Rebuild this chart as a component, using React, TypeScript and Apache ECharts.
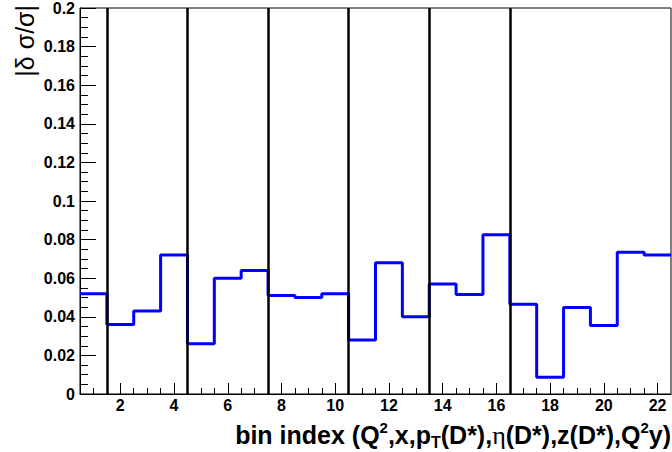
import React, { useEffect, useRef } from "react";
import * as echarts from "echarts";

// bin index 1..22 and relative uncertainty |δσ/σ|
const binIndex = [1, 2, 3, 4, 5, 6, 7, 8, 9, 10, 11, 12, 13, 14, 15, 16, 17, 18, 19, 20, 21, 22];
const relUncertainty = [
  0.052, 0.036, 0.043, 0.072, 0.026, 0.06, 0.064, 0.051, 0.050, 0.052, 0.028,
  0.068, 0.040, 0.057, 0.0515, 0.0825, 0.0465, 0.0087, 0.0448, 0.0355, 0.0735, 0.072,
];
const groupSeparators = [1.5, 4.5, 7.5, 10.5, 13.5, 16.5];
const xMajorTicks = [2, 4, 6, 8, 10, 12, 14, 16, 18, 20, 22];
const xMinorTicks = [
  1, 1.5, 2.5, 3, 3.5, 4.5, 5, 5.5, 6.5, 7, 7.5, 8.5, 9, 9.5, 10.5, 11, 11.5,
  12.5, 13, 13.5, 14.5, 15, 15.5, 16.5, 17, 17.5, 18.5, 19, 19.5, 20.5, 21, 21.5, 22,
];

const FONT = '"Liberation Sans", Arial, Helvetica, sans-serif';

export default function App() {
  const ref = useRef<HTMLDivElement>(null);
  useEffect(() => {
    document.body.style.margin = "0";
    if (!ref.current) return;
    const chart = echarts.init(ref.current, undefined, { renderer: "svg" });

    // histogram edges built from bin centres
    const stepData: [number, number][] = binIndex.map((b, i) => [b - 0.5, relUncertainty[i]]);
    stepData.push([binIndex[binIndex.length - 1] + 0.5, relUncertainty[relUncertainty.length - 1]]);

    const xMin = binIndex[0] - 0.5;
    const xMax = binIndex[binIndex.length - 1] + 0.5;

    chart.setOption({
      animation: false,
      grid: {
        left: 80,
        right: 1,
        top: 7,
        bottom: 58,
        show: true,
        borderColor: "#000",
        borderWidth: 1,
        backgroundColor: "#fff",
      },
      xAxis: [
        {
          type: "value",
          min: xMin,
          max: xMax,
          position: "bottom",
          axisLine: { show: true, lineStyle: { color: "#000", width: 1 } },
          axisTick: {
            show: true,
            inside: true,
            length: 11,
            customValues: xMajorTicks,
            lineStyle: { color: "#000", width: 1 },
          },
          axisLabel: {
            show: true,
            customValues: xMajorTicks,
            margin: 3,
            color: "#000",
            fontFamily: FONT,
            fontWeight: "bold",
            fontSize: 16,
          },
          splitLine: { show: false },
        },
        {
          type: "value",
          min: xMin,
          max: xMax,
          position: "bottom",
          axisLine: { show: false },
          axisTick: {
            show: true,
            inside: true,
            length: 6,
            customValues: xMinorTicks,
            lineStyle: { color: "#000", width: 1 },
          },
          axisLabel: { show: false },
          splitLine: { show: false },
        },
      ],
      yAxis: {
        type: "value",
        min: 0,
        max: 0.2,
        interval: 0.02,
        axisLine: { show: true, lineStyle: { color: "#000", width: 1 } },
        axisTick: { show: true, inside: true, length: 16, lineStyle: { color: "#000", width: 1 } },
        minorTick: { show: true, splitNumber: 4, length: 8, lineStyle: { color: "#000", width: 1 } },
        axisLabel: {
          margin: 5,
          color: "#000",
          fontFamily: FONT,
          fontWeight: "bold",
          fontSize: 16,
          formatter: (v: number) => String(+v.toFixed(3)),
        },
        splitLine: { show: false },
        minorSplitLine: { show: false },
      },
      graphic: [
        {
          type: "text",
          x: 25,
          y: 5,
          rotation: Math.PI / 2,
          style: {
            text: "|δ σ/σ|",
            font: `25px ${FONT}`,
            fill: "#000",
            align: "right",
            verticalAlign: "middle",
          },
        },
        {
          type: "text",
          x: 671,
          y: 450,
          style: {
            text:
              "{m|bin index (Q}{sup|2}{m|,x,p}{sub|T}{m|(D*),}{eta|η}{m|(D*),z(D*),Q}{sup|2}{m|y)}",
            align: "right",
            verticalAlign: "bottom",
            fill: "#000",
            rich: {
              m: { fontFamily: FONT, fontWeight: "bold", fontSize: 25, lineHeight: 30, verticalAlign: "middle" },
              sup: { fontFamily: FONT, fontWeight: "bold", fontSize: 15, lineHeight: 15, verticalAlign: "top" },
              sub: { fontFamily: FONT, fontWeight: "bold", fontSize: 16, lineHeight: 16, verticalAlign: "bottom" },
              eta: { fontFamily: '"Liberation Serif", "DejaVu Serif", serif', fontSize: 26, lineHeight: 30, verticalAlign: "middle" },
            },
          },
        },
      ],
      series: [
        {
          type: "line",
          xAxisIndex: 0,
          data: stepData,
          step: "end",
          symbol: "none",
          lineStyle: { color: "#0000ff", width: 3 },
          silent: true,
          z: 3,
          markLine: {
            silent: true,
            symbol: ["none", "none"],
            label: { show: false },
            lineStyle: { color: "#000", width: 2.5, type: "solid" },
            emphasis: { disabled: true },
            data: groupSeparators.map((x) => ({ xAxis: x })),
          },
        },
      ],
    });
    return () => chart.dispose();
  }, []);
  return (
    <div
      ref={ref}
      style={{ width: 672, height: 452, position: "absolute", left: 0, top: 0, background: "#fff" }}
    />
  );
}
